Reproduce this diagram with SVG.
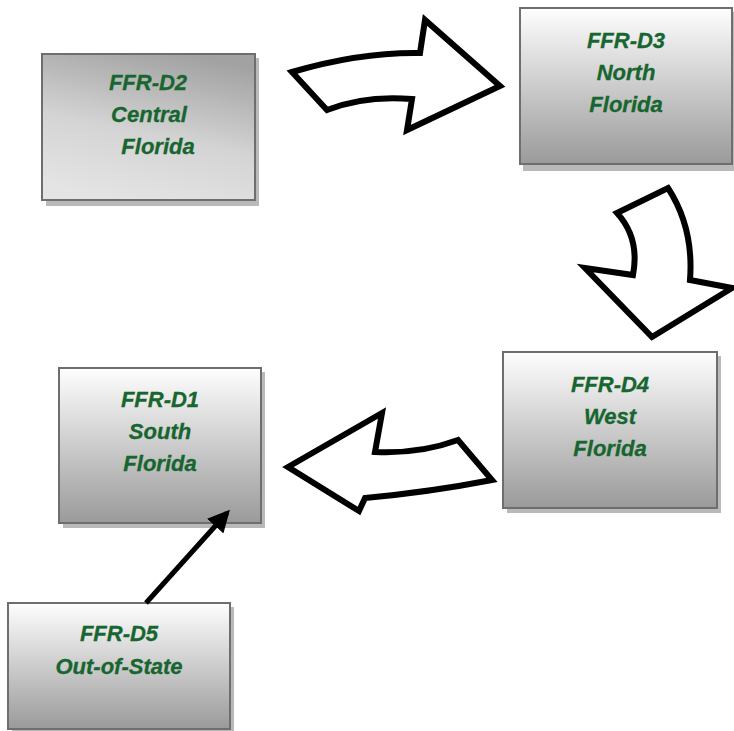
<svg xmlns="http://www.w3.org/2000/svg" width="734" height="731" viewBox="0 0 734 731">
<style>
.box{stroke:#6e6e6e;stroke-width:2}
.shadow{fill:#b9b9b9}
.lbl{font-family:"Liberation Sans",Arial,sans-serif;font-weight:bold;font-style:italic;font-size:22px;fill:#17652f;stroke:#17652f;stroke-width:0.3;text-anchor:middle}
.blk{fill:#ffffff;stroke:#000000;stroke-width:6;stroke-linejoin:miter;stroke-miterlimit:10}
</style>
<defs>
<linearGradient id="gv" x1="0" y1="0" x2="0" y2="1">
<stop offset="0" stop-color="#fefefe"/>
<stop offset="1" stop-color="#9a9a9a"/>
</linearGradient>
<linearGradient id="gd" x1="0.65" y1="0" x2="0.35" y2="1">
<stop offset="0" stop-color="#a2a2a2"/>
<stop offset="0.55" stop-color="#d4d4d4"/>
<stop offset="1" stop-color="#e4e4e4"/>
</linearGradient>
<marker id="ah" viewBox="0 0 10 10" refX="8" refY="5" markerWidth="4.4" markerHeight="4.4" orient="auto" markerUnits="strokeWidth">
<path d="M0,0 L10,5 L0,10 z" fill="#000"/>
</marker>
</defs>
<rect width="734" height="731" fill="#ffffff"/>

<g id="D2">
<rect class="shadow" x="46" y="58" width="213" height="148"/>
<rect class="box" x="42" y="54" width="213" height="146" fill="url(#gd)"/>
<text class="lbl" x="148" y="90">FFR-D2</text>
<text class="lbl" x="149" y="122">Central</text>
<text class="lbl" x="158" y="154">Florida</text>
</g>

<g id="D3">
<rect class="shadow" x="523" y="12" width="212" height="159"/>
<rect class="box" x="520" y="8" width="212" height="156" fill="url(#gv)"/>
<text class="lbl" x="626" y="48">FFR-D3</text>
<text class="lbl" x="626" y="80">North</text>
<text class="lbl" x="626" y="112">Florida</text>
</g>

<g id="D4">
<rect class="shadow" x="507" y="356" width="214" height="157"/>
<rect class="box" x="503" y="352" width="214" height="156" fill="url(#gv)"/>
<text class="lbl" x="610" y="392">FFR-D4</text>
<text class="lbl" x="610" y="424">West</text>
<text class="lbl" x="610" y="456">Florida</text>
</g>

<g id="D1">
<rect class="shadow" x="63" y="372" width="202" height="156"/>
<rect class="box" x="59" y="368" width="202" height="155" fill="url(#gv)"/>
<text class="lbl" x="160" y="407">FFR-D1</text>
<text class="lbl" x="160" y="439">South</text>
<text class="lbl" x="160" y="471">Florida</text>
</g>

<g id="D5">
<rect class="shadow" x="12" y="607" width="222" height="126"/>
<rect class="box" x="8" y="603" width="222" height="126" fill="url(#gv)"/>
<text class="lbl" x="119" y="641">FFR-D5</text>
<text class="lbl" x="119" y="674">Out-of-State</text>
</g>

<g id="connectors">
<path class="blk" d="M292,72 Q360,52 420,53 L425,20 L500,86 L407,130 L412,99 Q365,95 327,110 Z"/>
<path class="blk" d="M617,213 L668,188 Q694,228 690,280 L732,288 L652,337 L585,268 L633,275 Q640,238 617,213 Z"/>
<path class="blk" d="M288,467 L382,413 L375,452 Q420,454 458,440 L492,480 Q430,492 365,498 L359,511 Z"/>
<line x1="146" y1="603" x2="227" y2="513" stroke="#000" stroke-width="5" marker-end="url(#ah)"/>
</g>
</svg>
